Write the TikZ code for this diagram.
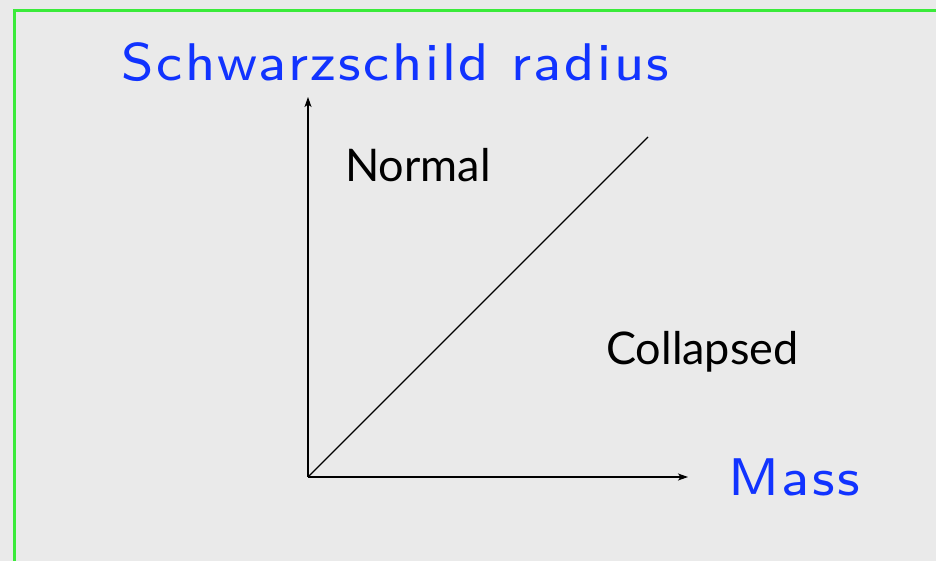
\documentclass[tikz,border=0pt]{standalone}
\usepackage{fontspec}
\newfontfamily\gillfont{Lato}
\newfontfamily\titlefont{lmsans8-regular.otf}[LetterSpace=5,FakeStretch=1.04]
\usetikzlibrary{arrows.meta}
\definecolor{bg}{HTML}{EAEAEA}
\definecolor{frame}{HTML}{3AEB3A}
\definecolor{titleblue}{HTML}{1133FF}
\tikzset{
  axis/.style={line width=1.1pt, -{Stealth[length=10pt,width=7pt,inset=2.5pt]}},
  bluelabel/.style={inner sep=0pt, anchor=base west, text=titleblue, font=\titlefont\fontsize{53}{60}\selectfont},
  regionlabel/.style={inner sep=0pt, anchor=base west, text=black, font=\gillfont\fontsize{45}{50}\selectfont},
}
\begin{document}
\begin{tikzpicture}[x=1pt,y=-1pt]
\fill[bg] (0,0) rectangle (936,561);
\useasboundingbox (0,0) rectangle (936,561);
\draw[frame, line width=3pt] (14,580) -- (14,11) -- (960,11);
\coordinate (o) at (308,477);
\coordinate (ytip) at (308,97);
\coordinate (xtip) at (688,477);
\coordinate (dend) at (648,137);
\draw[axis] (o) -- (ytip);
\draw[axis] (o) -- (xtip);
\draw[line width=1.1pt] (o) -- (dend);
\node[bluelabel] (ylab) at (121,81) {Schwarzschild radius};
\node[bluelabel] (xlab) at (728,495) {Mass};
\node[regionlabel] (normal) at (345,182) {Normal};
\node[regionlabel] (collapsed) at (606,364) {Collapsed};
\end{tikzpicture}
\end{document}
